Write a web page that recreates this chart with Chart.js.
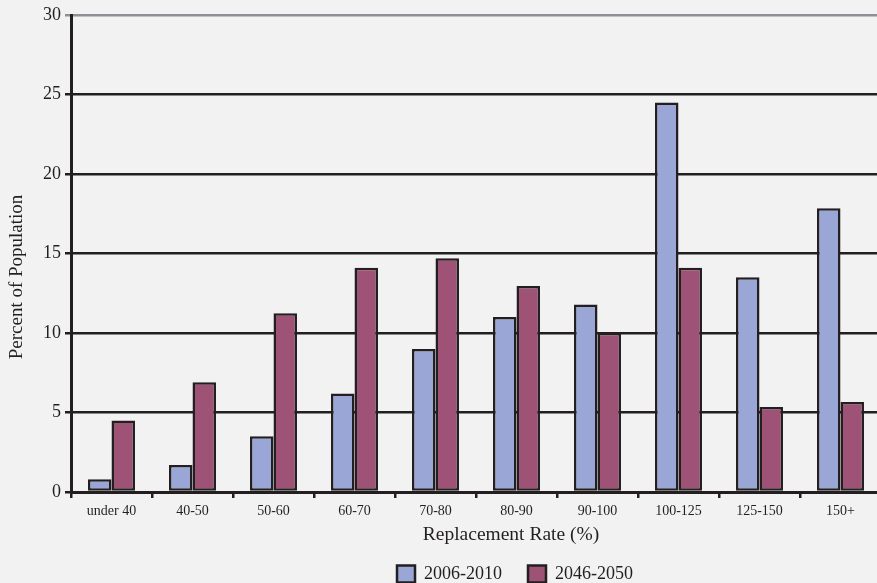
<!DOCTYPE html>
<html>
<head>
<meta charset="utf-8">
<script src="https://cdn.jsdelivr.net/npm/chart.js@4/dist/chart.umd.min.js"></script>
<style>
  html, body { margin: 0; padding: 0; background: #f2f2f2; overflow: hidden; }
  #wrap { width: 877px; height: 583px; overflow: hidden; position: relative; }
  #wrap canvas { position: absolute; left: 0; top: 0; }
</style>
</head>
<body>
<div id="wrap"><canvas id="c" width="1030" height="593" style="width:1030px;height:593px"></canvas></div>
<script>
// Replacement-rate brackets and share of population in each
const categories = ['under 40', '40-50', '50-60', '60-70', '70-80', '80-90', '90-100', '100-125', '125-150', '150+'];
const period1 = '2006-2010';
const period2 = '2046-2050';
const values1 = [0.8, 1.7, 3.5, 6.2, 9.0, 11.0, 11.8, 24.5, 13.5, 17.85];
const values2 = [4.5, 6.9, 11.25, 14.1, 14.7, 12.95, 10.0, 14.1, 5.35, 5.66];
const yTicks = [0, 5, 10, 15, 20, 25, 30];
const xTitle = 'Replacement Rate (%)';
const yTitle = 'Percent of Population';

const serif = '"Liberation Serif", "DejaVu Serif", serif';
const ink = '#231f20';

// Axis titles centred on the whole figure rather than on the plot box
const figureTitles = {
  id: 'figureTitles',
  afterDraw(chart) {
    const { ctx, chartArea, legend, width } = chart;
    ctx.save();
    ctx.fillStyle = ink;
    ctx.textAlign = 'center';
    ctx.textBaseline = 'middle';
    ctx.font = '19.5px ' + serif;
    ctx.fillText(xTitle, width / 2 - 4, chartArea.bottom + 43);
    ctx.translate(17, (chartArea.top + legend.top) / 2);
    ctx.rotate(-Math.PI / 2);
    ctx.font = '19px ' + serif;
    ctx.fillText(yTitle, 0, 0);
    ctx.restore();
  }
};

new Chart(document.getElementById('c'), {
  type: 'bar',
  data: {
    labels: categories,
    datasets: [
      { label: period1, data: values1, backgroundColor: '#99a6d6', borderColor: ink, borderWidth: 2.5, borderSkipped: false },
      { label: period2, data: values2, backgroundColor: '#9e5276', borderColor: ink, borderWidth: 2.5, borderSkipped: false }
    ]
  },
  plugins: [figureTitles],
  options: {
    responsive: false,
    animation: false,
    devicePixelRatio: 1,
    layout: { padding: { top: 15, right: 0, left: 0, bottom: 0 } },
    datasets: { bar: { barPercentage: 1.0, categoryPercentage: 0.58 } },
    plugins: {
      tooltip: { enabled: false },
      legend: {
        position: 'bottom',
        labels: {
          color: ink,
          font: { family: serif, size: 18 },
          boxWidth: 18,
          boxHeight: 17,
          padding: 26
        }
      }
    },
    scales: {
      x: {
        grid: { offset: true, drawOnChartArea: false, drawTicks: true, tickLength: 6, color: ink, lineWidth: 2.5 },
        border: { display: true, color: ink, width: 3 },
        ticks: { color: ink, font: { family: serif, size: 14 }, padding: 5, maxRotation: 0 },
        afterFit: (s) => { s.height = 47; }
      },
      y: {
        min: 0,
        max: 30,
        afterBuildTicks: (s) => { s.ticks = yTicks.map(v => ({ value: v })); },
        grid: {
          drawTicks: true,
          tickLength: 6,
          lineWidth: 2.5,
          color: (ctx) => (ctx.tick && ctx.tick.value === 30 ? '#8e9095' : ink)
        },
        border: { display: true, color: ink, width: 3 },
        ticks: { color: ink, font: { family: serif, size: 18 }, padding: 4 },
        afterFit: (s) => { s.width = 71; }
      },
      // empty margin on the right of the plot
      yPad: {
        position: 'right',
        display: true,
        grid: { display: false },
        border: { display: false },
        ticks: { display: false },
        afterFit: (s) => { s.width = 149; }
      }
    }
  }
});
</script>
</body>
</html>
